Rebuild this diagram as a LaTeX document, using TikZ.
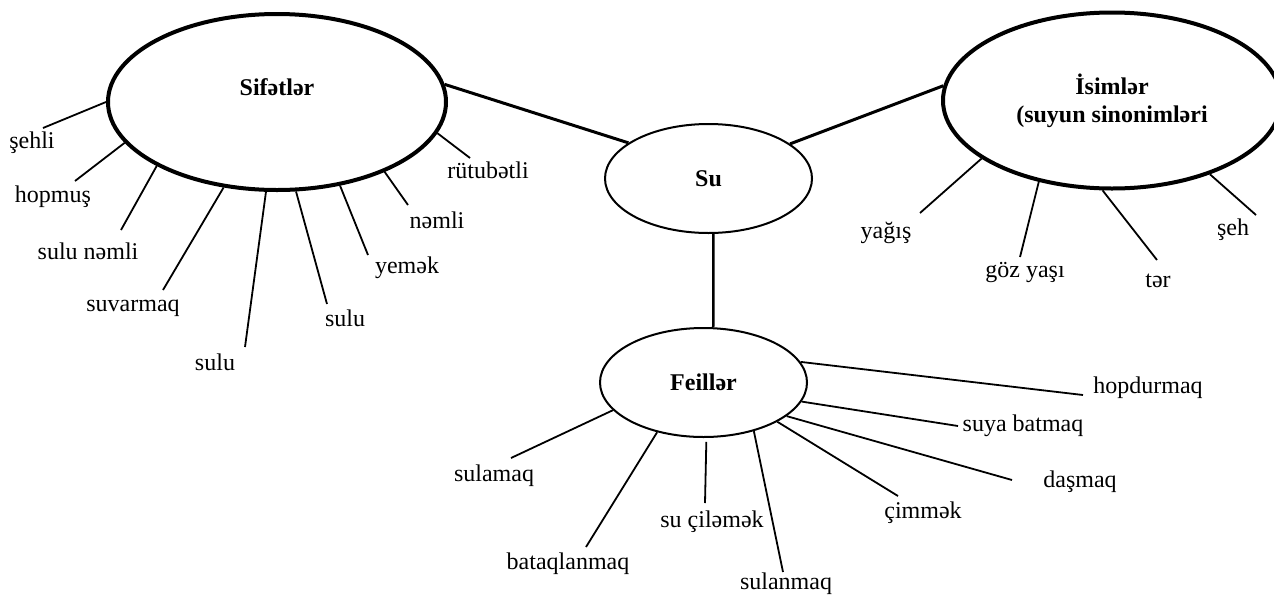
\documentclass[tikz,border=0pt]{standalone}
\usepackage{fontspec}
\setmainfont{Liberation Serif}
\usetikzlibrary{shapes.geometric}
\begin{document}
\begin{tikzpicture}[x=1pt,y=-1pt,
  bub/.style={ellipse,draw,inner sep=0pt,align=center,font=\fontsize{24}{28}\selectfont\bfseries},
  bigbub/.style={bub,line width=4pt,minimum width=338pt,minimum height=176pt},
  midbub/.style={bub,line width=2pt,minimum width=207pt,minimum height=109pt},
  word/.style={inner sep=0pt,font=\fontsize{24}{28}\selectfont},
  headword/.style={inner sep=0pt,font=\fontsize{24}{28}\selectfont\bfseries},
  twig/.style={line width=1.8pt},
  trunk/.style={line width=3pt}]
\useasboundingbox (0,0) rectangle (1274,595);
\clip (0,0) rectangle (1274,595);

% main bubbles
\node[bigbub,label={[headword,yshift=15pt]center:Sifətlər}] (sif) at (277,102) {};
\node[midbub] (su) at (708.5,178.5) {Su};
\node[bigbub] (ism) at (1112,100.5) {İsimlər\\(suyun sinonimləri};
\node[midbub] (feil) at (703.5,382.5) {Feillər};

% trunks
\draw[trunk] (sif.6.5) -- (su.156.2);
\draw[trunk] (su.23.3) -- (ism.175.7);
\draw[line width=2.5pt] (su.-85.8) -- (feil.80.6);

% Sifetler branches
\coordinate (a1) at (43,128);  \node[word] (wa1) at (32,143) {şehli};
\coordinate (a2) at (75,181);  \node[word] (wa2) at (53,197) {hopmuş};
\coordinate (a3) at (121,230); \node[word] (wa3) at (88,251) {sulu nəmli};
\coordinate (a4) at (163,290); \node[word] (wa4) at (133,308) {suvarmaq};
\coordinate (a5) at (245,347); \node[word] (wa5) at (215,362) {sulu};
\coordinate (a6) at (327,304); \node[word] (wa6) at (345,318) {sulu};
\coordinate (a7) at (368,255); \node[word] (wa7) at (407,268) {yemək};
\coordinate (a8) at (408,205); \node[word] (wa8) at (437,220) {nəmli};
\coordinate (a9) at (470,158); \node[word] (wa9) at (488,170) {rütubətli};
\draw[twig] (sif.180.5) -- (a1);
\draw[twig] (sif.195.6) -- (a2);
\draw[twig] (sif.208.6) -- (a3);
\draw[twig] (sif.238.4) -- (a4);
\draw[twig] (sif.263.7) -- (a5);
\draw[twig] (sif.282.4) -- (a6);
\draw[twig] (sif.307) -- (a7);
\draw[twig] (sif.327.3) -- (a8);
\draw[twig] (sif.349.4) -- (a9);

% Isimler branches
\coordinate (b1) at (920,213);  \node[word] (wb1) at (886,233) {yağış};
\coordinate (b2) at (1020,257); \node[word] (wb2) at (1025,273) {göz yaşı};
\coordinate (b3) at (1157,260); \node[word] (wb3) at (1158,281) {tər};
\coordinate (b4) at (1256,215); \node[word] (wb4) at (1233,230) {şeh};
\draw[twig] (ism.204.6) -- (b1);
\draw[twig] (ism.228.1) -- (b2);
\draw[twig] (ism.264.4) -- (b3);
\draw[twig] (ism.323.6) -- (b4);

% Feiller branches
\coordinate (c1) at (511,458);  \node[word] (wc1) at (494,476) {sulamaq};
\coordinate (c2) at (586,547);  \node[word] (wc2) at (568,564) {bataqlanmaq};
\coordinate (c3) at (705,503);  \node[word] (wc3) at (712,522) {su çiləmək};
\coordinate (c4) at (783,572);  \node[word,anchor=base] (wc4) at (786,589.5) {sulanmaq};
\coordinate (c5) at (898,496);  \node[word] (wc5) at (923,513) {çimmək};
\coordinate (c6) at (1012,480); \node[word] (wc6) at (1080,482) {daşmaq};
\coordinate (c7) at (958,426);  \node[word] (wc7) at (1023,426) {suya batmaq};
\coordinate (c8) at (1083,395); \node[word] (wc8) at (1148,388) {hopdurmaq};
\draw[twig] (feil.197.9) -- (c1);
\draw[twig] (feil.227.4) -- (c2);
\draw[twig,shorten <=4pt] (feil.273.4) -- (c3);
\draw[twig] (feil.316.7) -- (c4);
\draw[twig] (feil.332.4) -- (c5);
\draw[twig] (feil.338.7) -- (c6);
\draw[twig] (feil.349.5) -- (c7);
\draw[twig] (feil.12.6) -- (c8);
\end{tikzpicture}
\end{document}
